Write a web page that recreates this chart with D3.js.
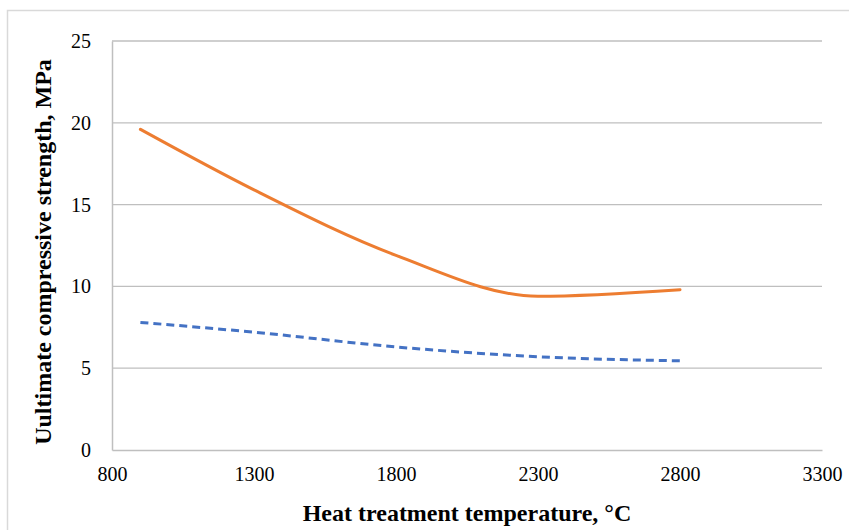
<!DOCTYPE html>
<html lang="en">
<head>
<meta charset="UTF-8">
<title>Ultimate compressive strength</title>
<script src="https://d3js.org/d3.v7.min.js"></script>
<style>
  body { margin: 0; background: #fff; }
</style>
</head>
<body>
<div id="chart"></div>
<script>
// values
var temps = [900, 1300, 1800, 2300, 2800]
var strengthSolid = [19.6, 15.9, 11.9, 9.4, 9.8]
var strengthDashed = [7.8, 7.2, 6.3, 5.7, 5.45]
var xTicks = [800, 1300, 1800, 2300, 2800, 3300]
var yTicks = [0, 5, 10, 15, 20, 25]

var W = 849, H = 530
var margin = {top: 41, right: 27, bottom: 80, left: 112}
var serif = "'Liberation Serif', 'Times New Roman', serif"

var svg = d3.select("#chart").append("svg")
  .attr("width", W).attr("height", H)

// chart outer border
svg.append("rect")
  .attr("x", 7.5).attr("y", 10.5)
  .attr("width", W).attr("height", H)
  .attr("fill", "none").attr("stroke", "#d9d9d9").attr("stroke-width", 1.5)

var x = d3.scaleLinear().domain([800, 3300]).range([margin.left, W - margin.right])
var y = d3.scaleLinear().domain([0, 25]).range([H - margin.bottom, margin.top])

// gridlines
svg.append("g")
  .selectAll("line")
  .data(yTicks.filter(d => d > 0))
  .enter().append("line")
    .attr("x1", x(800)).attr("x2", x(3300))
    .attr("y1", d => y(d)).attr("y2", d => y(d))
    .attr("stroke", "#bfbfbf").attr("stroke-width", 1.3)

// axes
var yAxis = svg.append("g")
  .attr("transform", "translate(" + x(800) + ",0)")
  .call(d3.axisLeft(y).tickValues(yTicks).tickSize(0).tickPadding(21))
yAxis.attr("font-family", serif)
yAxis.select(".domain").attr("stroke", "#bfbfbf").attr("stroke-width", 1.5)
yAxis.selectAll("text").style("font-family", serif).style("font-size", "20px").attr("fill", "#000")

var xAxis = svg.append("g")
  .attr("transform", "translate(0," + y(0) + ")")
  .call(d3.axisBottom(x).tickValues(xTicks).tickSize(0).tickPadding(17).tickFormat(d3.format("d")))
xAxis.attr("font-family", serif)
xAxis.select(".domain").attr("stroke", "#bfbfbf").attr("stroke-width", 1.5)
xAxis.selectAll("text").style("font-family", serif).style("font-size", "20px").attr("fill", "#000")

// series
var line = d3.line().curve(d3.curveMonotoneX)

svg.append("path")
  .attr("d", line(temps.map((t, i) => [x(t), y(strengthSolid[i])])))
  .attr("fill", "none").attr("stroke", "#ed7d31").attr("stroke-width", 3)
  .attr("stroke-linecap", "round")

svg.append("path")
  .attr("d", line(temps.map((t, i) => [x(t), y(strengthDashed[i])])))
  .attr("fill", "none").attr("stroke", "#4472c4").attr("stroke-width", 3)
  .attr("stroke-dasharray", "8,5")

// axis titles
svg.append("text")
  .attr("x", 467).attr("y", 521)
  .attr("text-anchor", "middle")
  .style("font-family", serif)
  .style("font-size", "24px").style("font-weight", "bold")
  .text("Heat treatment temperature, °C")

svg.append("text")
  .attr("transform", "translate(51,252) rotate(-90)")
  .attr("text-anchor", "middle")
  .style("font-family", serif)
  .style("font-size", "24px").style("font-weight", "bold")
  .text("Uultimate compressive strength, MPa")
</script>
</body>
</html>
